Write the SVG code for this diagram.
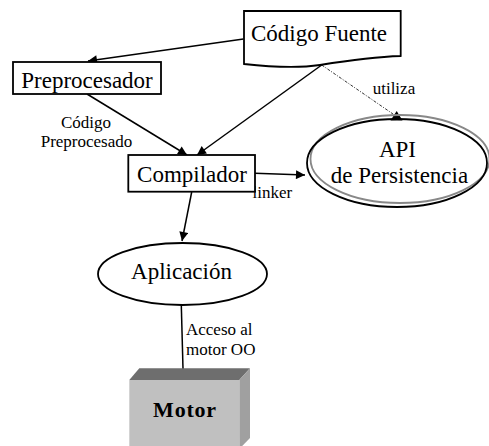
<svg xmlns="http://www.w3.org/2000/svg" width="489" height="446" viewBox="0 0 489 446" font-family="'Liberation Serif','Times New Roman',serif">
<defs>
<marker id="ah" viewBox="0 0 10 10" refX="10" refY="5" markerWidth="10" markerHeight="9" markerUnits="userSpaceOnUse" orient="auto">
<path d="M0,0 L10,5 L0,10 Z" fill="#000"/>
</marker>
<style>
.node{fill:#fff;stroke:#000;stroke-width:1.8}
.big{font-family:'Liberation Serif','Times New Roman',serif;font-size:23px;fill:#000;text-anchor:middle}
.lbl{font-family:'Liberation Serif','Times New Roman',serif;font-size:17px;fill:#000}
.edge{fill:none;stroke:#000;stroke-width:1.5;marker-end:url(#ah)}
</style>
</defs>
<rect width="489" height="446" fill="#fff"/>
<g id="connectors">
<line class="edge" x1="243.5" y1="39" x2="88" y2="61"/>
<line class="edge" x1="87" y1="94" x2="187" y2="155"/>
<line class="edge" x1="321.7" y1="65" x2="197" y2="155"/>
<line x1="321.7" y1="65" x2="393" y2="114" stroke="#000" stroke-width="0.8" stroke-dasharray="3,1.5,1,1.5" fill="none"/>
<path d="M390.5,120.5 L396.7,111 L402.5,120.5 Z" fill="#000"/>
<line class="edge" x1="255" y1="173.3" x2="305" y2="175"/>
<line class="edge" x1="191.7" y1="192" x2="182" y2="241"/>
<line class="edge" x1="181.3" y1="305" x2="183.3" y2="380"/>
<text class="lbl" x="86" y="128" text-anchor="middle">Código</text>
<text class="lbl" x="86.5" y="147" text-anchor="middle">Preprocesado</text>
<text class="lbl" x="372.7" y="94.3">utiliza</text>
<text class="lbl" x="252.5" y="198">linker</text>
<text class="lbl" x="186" y="335">Acceso al</text>
<text class="lbl" x="186" y="355">motor OO</text>
</g>
<g id="codigo-fuente">
<path class="node" d="M244,11 H400.7 V56 C370,57 345,61 320,65 C300,68 280,68 244,64 Z"/>
<text class="big" x="319" y="41">Código Fuente</text>
</g>
<g id="preprocesador">
<rect class="node" x="13" y="62" width="148" height="32"/>
<text class="big" x="87" y="88">Preprocesador</text>
</g>
<g id="compilador">
<rect class="node" x="128.3" y="155" width="126.7" height="36.7"/>
<text class="big" x="192" y="182">Compilador</text>
</g>
<g id="api">
<ellipse cx="400" cy="159" rx="89.5" ry="44" fill="none" stroke="#888" stroke-width="1.8"/>
<ellipse cx="397" cy="163" rx="90" ry="44" fill="none" stroke="#000" stroke-width="1.8"/>
<text class="big" x="397.5" y="157">API</text>
<text class="big" x="399.5" y="183">de Persistencia</text>
</g>
<g id="aplicacion">
<ellipse class="node" cx="182.5" cy="274" rx="84.5" ry="31"/>
<text class="big" x="181.5" y="279">Aplicación</text>
</g>
<g id="motor">
<path d="M129.3,380 L139.3,368.3 L250,368.3 L239.3,380 Z" fill="#6e6e6e"/>
<path d="M239.3,380 L250,368.3 L250,438 L239.3,449 Z" fill="#a0a0a0"/>
<rect x="129.3" y="380" width="110" height="70" fill="#c0c0c0"/>
<text x="185" y="417" font-family="'Liberation Serif','Times New Roman',serif" font-size="22px" font-weight="bold" text-anchor="middle" letter-spacing="0.8" fill="#000">Motor</text>
</g>
</svg>
